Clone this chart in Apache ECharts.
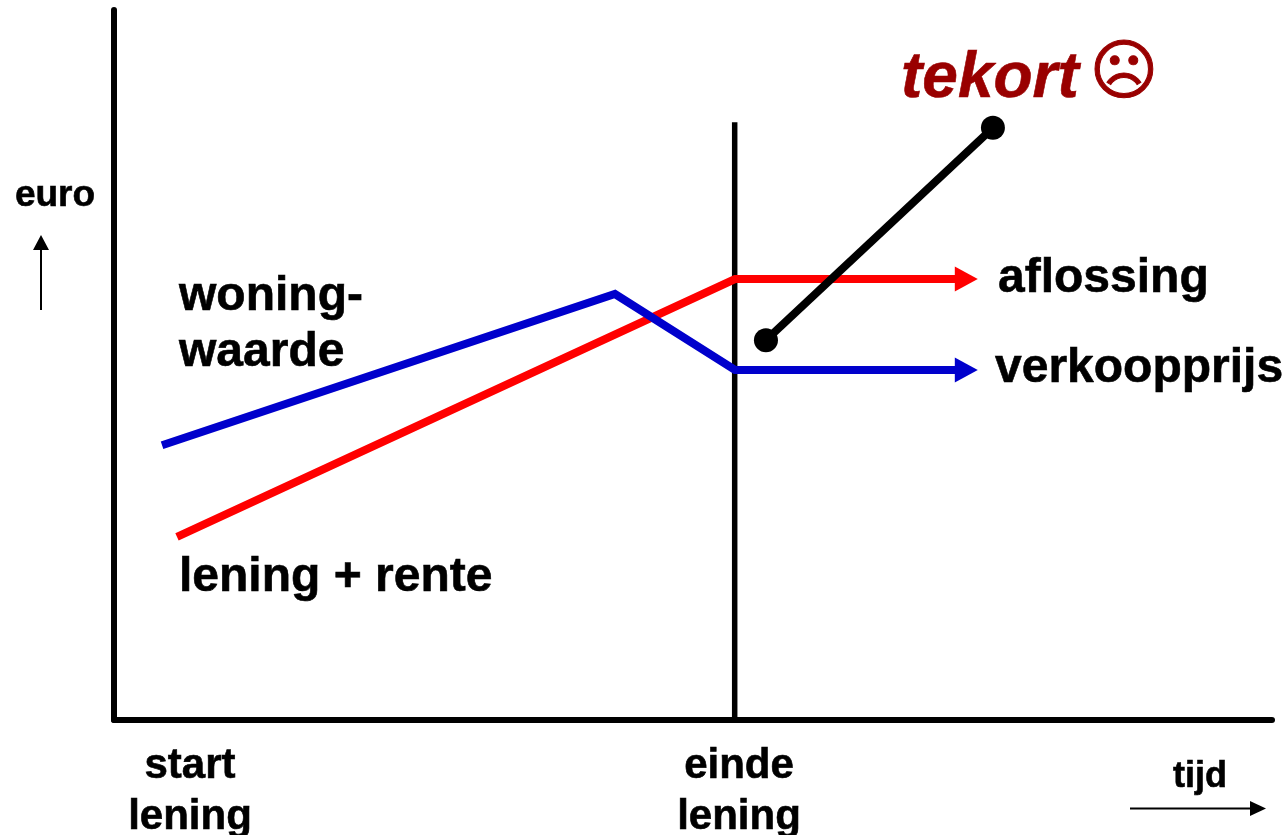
<!DOCTYPE html>
<html>
<head>
<meta charset="utf-8">
<script src="https://cdn.jsdelivr.net/npm/echarts@6/dist/echarts.min.js"></script>
<style>
  html, body { margin: 0; padding: 0; background: #fff; }
  #chart { width: 1287px; height: 835px; }
</style>
</head>
<body>
<div id="chart"></div>
<script>
// values, both axes on a 0-100 scale
const woningwaarde = [[4.15, 38.7], [43.26, 60], [53.63, 49.3], [73.6, 49.3]]
const leningRente = [[5.44, 25.8], [53.63, 62.1], [73.6, 62.1]]
const tekort = [[56.3, 53.5], [75.9, 83.4]]
const eindeLening = [[53.6, 0], [53.6, 84.2]]

const RED = '#ff0000'
const BLUE = '#0000cc'
const DARKRED = '#990000'
const FONT = '"Liberation Sans", Arial, sans-serif'

// last point of a line gets the arrow head
const withArrow = (points) => points.map((p, i) => {
  if (i < points.length - 1) return { value: p, symbol: 'none' }
  return { value: p, symbol: 'triangle', symbolSize: [25, 23], symbolRotate: -90 }
})

const label = (text, x, y, size, extra) => ({
  type: 'text',
  x: x,
  y: y,
  style: Object.assign({
    text: text,
    font: 'bold ' + size + 'px ' + FONT,
    fill: '#000',
    stroke: '#000',
    lineWidth: 0.6,
    textAlign: 'center',
    textVerticalAlign: 'middle'
  }, extra)
})

const option = {
  animation: false,
  backgroundColor: '#fff',
  grid: { left: 114, right: 15, top: 10, bottom: 115 },
  xAxis: {
    type: 'value',
    min: 0,
    max: 100,
    axisLine: { show: true, onZero: false, lineStyle: { color: '#000', width: 6 } },
    axisTick: { show: false },
    axisLabel: { show: false },
    splitLine: { show: false }
  },
  yAxis: {
    type: 'value',
    min: 0,
    max: 100,
    axisLine: { show: true, onZero: false, lineStyle: { color: '#000', width: 6 } },
    axisTick: { show: false },
    axisLabel: { show: false },
    splitLine: { show: false }
  },
  series: [
    {
      name: 'einde lening',
      type: 'line',
      data: eindeLening,
      showSymbol: false,
      lineStyle: { color: '#000', width: 5.5, cap: 'butt' }
    },
    {
      name: 'lening + rente',
      type: 'line',
      data: withArrow(leningRente),
      itemStyle: { color: RED },
      lineStyle: { color: RED, width: 8, join: 'miter' }
    },
    {
      name: 'woningwaarde',
      type: 'line',
      data: withArrow(woningwaarde),
      itemStyle: { color: BLUE },
      lineStyle: { color: BLUE, width: 8, join: 'miter' }
    },
    {
      name: 'tekort',
      type: 'line',
      data: tekort,
      symbol: 'circle',
      symbolSize: 24,
      showSymbol: true,
      itemStyle: { color: '#000' },
      lineStyle: { color: '#000', width: 8 }
    }
  ],
  graphic: [
    label('euro', 55, 196, 37),
    label('tijd', 1200, 777, 36),
    label('start', 190, 766, 42),
    label('lening', 190, 817, 42),
    label('einde', 739, 766, 42),
    label('lening', 739, 817, 42),
    label('woning-', 179, 297, 48, { textAlign: 'left' }),
    label('waarde', 179, 353, 48, { textAlign: 'left' }),
    label('lening + rente', 179, 578, 48, { textAlign: 'left' }),
    label('aflossing', 998, 279, 48, { textAlign: 'left' }),
    label('verkoopprijs', 995, 369, 48, { textAlign: 'left' }),
    {
      type: 'text',
      x: 901,
      y: 79,
      style: {
        text: 'tekort',
        font: 'italic bold 64px ' + FONT,
        fill: DARKRED,
        stroke: DARKRED,
        lineWidth: 0.6,
        textAlign: 'left',
        textVerticalAlign: 'middle'
      }
    },
    {
      type: 'text',
      x: 1124,
      y: 76,
      style: {
        text: '\u2639',
        font: '66px "DejaVu Sans"',
        fill: DARKRED,
        stroke: DARKRED,
        lineWidth: 1,
        textAlign: 'center',
        textVerticalAlign: 'middle'
      }
    },
    // small arrows next to the axes
    { type: 'line', shape: { x1: 41, y1: 310, x2: 41, y2: 248 }, style: { stroke: '#000', lineWidth: 2 } },
    { type: 'polygon', shape: { points: [[41, 235], [33, 250], [49, 250]] }, style: { fill: '#000' } },
    { type: 'line', shape: { x1: 1130, y1: 808.5, x2: 1252, y2: 808.5 }, style: { stroke: '#000', lineWidth: 2 } },
    { type: 'polygon', shape: { points: [[1266, 808.5], [1250, 801], [1250, 816]] }, style: { fill: '#000' } }
  ]
}

var chart = echarts.init(document.getElementById('chart'))
chart.setOption(option)
</script>
</body>
</html>
